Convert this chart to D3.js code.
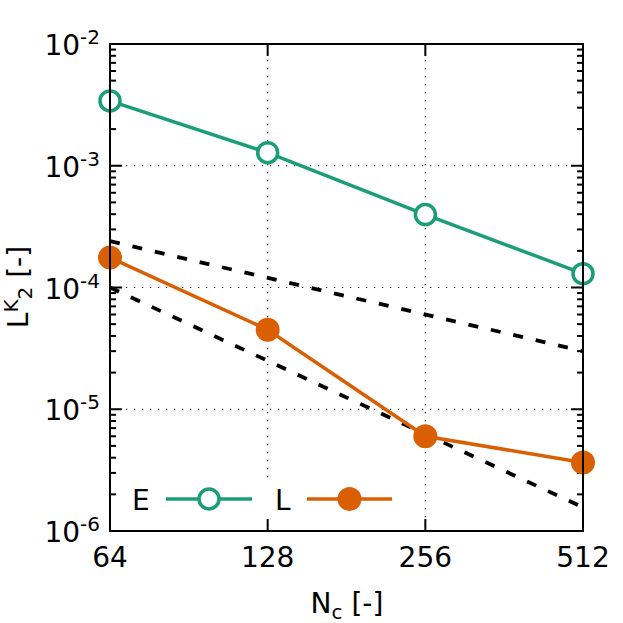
<!DOCTYPE html>
<html><head><meta charset="utf-8">
<script src="https://cdn.jsdelivr.net/npm/d3@7"></script>
<style>body{margin:0;background:#fff}svg{display:block}text{font-family:"DejaVu Sans",sans-serif;fill:#000}</style>
</head><body>
<script>
const nc = [64, 128, 256, 512];
const eValues = [3.41e-3, 1.28e-3, 3.97e-4, 1.30e-4];
const lValues = [1.76e-4, 4.5e-5, 6.0e-6, 3.65e-6];
const firstOrderRef = [2.4e-4, 3.0e-5];   // at N=64 and N=512
const secondOrderRef = [1.0e-4, 1.5625e-6];
const refN = [64, 512];
const xTicks = [64, 128, 256, 512];
const yTickExp = [-2, -3, -4, -5, -6];
const seriesNames = ["E", "L"];
const colors = ["#1b9e77", "#d95f02"];

const W = 623, H = 623;
const svg = d3.select("body").append("svg").attr("width", W).attr("height", H);
const L = 110, R = 583, T = 44, B = 531;
const x = d3.scaleLog().base(2).domain([64, 512]).range([L, R]);
const y = d3.scaleLog().domain([1e-6, 1e-2]).range([B, T]);

// grid
const g = svg.append("g");
[128, 256].forEach(v => g.append("line").attr("x1", x(v)).attr("x2", x(v)).attr("y1", T).attr("y2", B)
  .attr("stroke", "#000").attr("stroke-width", 1.2).attr("stroke-dasharray", "1.2,6.8"));
[-3, -4, -5].forEach(e => g.append("line").attr("x1", L).attr("x2", R).attr("y1", y(Math.pow(10, e))).attr("y2", y(Math.pow(10, e)))
  .attr("stroke", "#000").attr("stroke-width", 1.2).attr("stroke-dasharray", "1.2,6.8"));

// ticks
const tk = svg.append("g").attr("stroke", "#000").attr("stroke-width", 2);
xTicks.slice(1, -1).forEach(v => {
  tk.append("line").attr("x1", x(v)).attr("x2", x(v)).attr("y1", B).attr("y2", B - 12);
  tk.append("line").attr("x1", x(v)).attr("x2", x(v)).attr("y1", T).attr("y2", T + 12);
});
for (let e = -6; e <= -2; e++) {
  const base = Math.pow(10, e);
  if (e > -6 && e < -2) {
    tk.append("line").attr("x1", L).attr("x2", L + 12).attr("y1", y(base)).attr("y2", y(base));
    tk.append("line").attr("x1", R).attr("x2", R - 12).attr("y1", y(base)).attr("y2", y(base));
  }
  if (e < -2) for (let m = 2; m <= 9; m++) {
    const yy = y(base * m);
    tk.append("line").attr("x1", L).attr("x2", L + 6).attr("y1", yy).attr("y2", yy);
    tk.append("line").attr("x1", R).attr("x2", R - 6).attr("y1", yy).attr("y2", yy);
  }
}

// reference lines
const line = d3.line().x(d => x(d[0])).y(d => y(d[1]));
[firstOrderRef, secondOrderRef].forEach(ref => {
  svg.append("path").attr("d", line(refN.map((n, i) => [n, ref[i]])))
    .attr("fill", "none").attr("stroke", "#000").attr("stroke-width", 3.8).attr("stroke-dasharray", "10,13");
});

// series
const series = [eValues, lValues];
series.forEach((vals, si) => {
  const pts = nc.map((n, i) => [n, vals[i]]);
  svg.append("path").attr("d", line(pts)).attr("fill", "none").attr("stroke", colors[si]).attr("stroke-width", 3.5);
  pts.forEach(p => {
    const c = svg.append("circle").attr("cx", x(p[0])).attr("cy", y(p[1]));
    if (si === 0) c.attr("r", 10).attr("fill", "#fff").attr("stroke", colors[0]).attr("stroke-width", 3.5);
    else c.attr("r", 12).attr("fill", colors[1]);
  });
});

// legend (opaque)
svg.append("rect").attr("x", 118).attr("y", 483).attr("width", 285).attr("height", 36).attr("fill", "#fff");
const legX = [[132, 166, 252], [275, 307, 392]];
seriesNames.forEach((nm, si) => {
  const [tx, x1, x2] = legX[si];
  svg.append("text").attr("x", tx).attr("y", 510).attr("font-size", 28).text(nm);
  svg.append("line").attr("x1", x1).attr("x2", x2).attr("y1", 499).attr("y2", 499).attr("stroke", colors[si]).attr("stroke-width", 3.5);
  const c = svg.append("circle").attr("cx", (x1 + x2) / 2).attr("cy", 499);
  if (si === 0) c.attr("r", 10).attr("fill", "#fff").attr("stroke", colors[0]).attr("stroke-width", 3.5);
  else c.attr("r", 12).attr("fill", colors[1]);
});

// border
svg.append("rect").attr("x", L).attr("y", T).attr("width", R - L).attr("height", B - T)
  .attr("fill", "none").attr("stroke", "#000").attr("stroke-width", 2);

// tick labels
xTicks.forEach(v => svg.append("text").attr("x", x(v)).attr("y", 567).attr("text-anchor", "middle").attr("font-size", 28).text(v));
yTickExp.forEach(e => {
  const t = svg.append("text").attr("x", 100).attr("y", y(Math.pow(10, e)) + 11).attr("text-anchor", "end").attr("font-size", 28);
  t.append("tspan").text("10");
  t.append("tspan").attr("dy", -11).attr("font-size", 20).text(String(e));
});

// axis labels
const xl = svg.append("text").attr("x", 347).attr("y", 613).attr("text-anchor", "middle").attr("font-size", 28);
xl.append("tspan").text("N");
xl.append("tspan").attr("dy", 6).attr("font-size", 20).text("c");
xl.append("tspan").attr("dy", -6).text(" [-]");

const yl = svg.append("text").attr("transform", "translate(28,287) rotate(-90)").attr("text-anchor", "middle").attr("font-size", 28);
yl.append("tspan").text("L");
yl.append("tspan").attr("dy", -10).attr("font-size", 20).text("K");
yl.append("tspan").attr("dy", 14).attr("font-size", 20).text("2");
yl.append("tspan").attr("dy", -4).text(" [-]");
</script>
</body></html>
